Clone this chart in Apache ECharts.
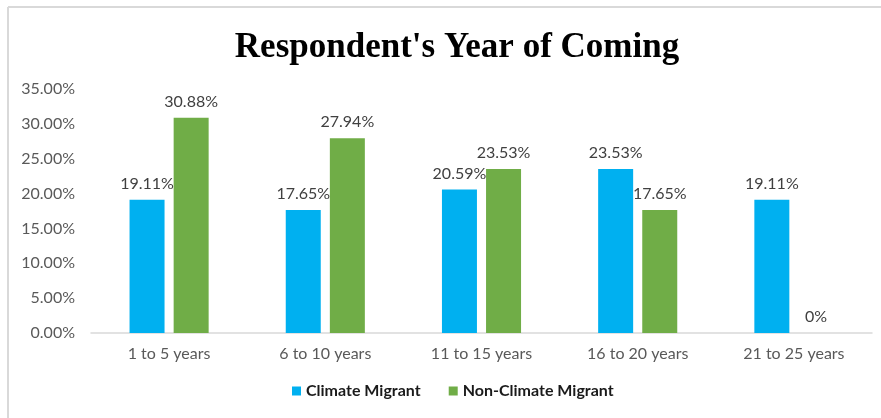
<!DOCTYPE html>
<html>
<head>
<meta charset="utf-8">
<title>Respondent's Year of Coming</title>
<script src="https://cdn.jsdelivr.net/npm/echarts@6/dist/echarts.min.js"></script>
<style>
	html, body { margin: 0; padding: 0; background: #ffffff; }
	#chart { width: 881px; height: 418px; }
</style>
</head>
<body>
<div id="chart"></div>
<script>
// categories on the x axis
var categories = ['1 to 5 years', '6 to 10 years', '11 to 15 years', '16 to 20 years', '21 to 25 years'];
// percentages
var climateData = [19.11, 17.65, 20.59, 23.53, 19.11];
var nonClimateData = [30.88, 27.94, 23.53, 17.65, 0];
// y axis tick labels
var yTicks = ['0.00%', '5.00%', '10.00%', '15.00%', '20.00%', '25.00%', '30.00%', '35.00%'];

window.onload = function () {
	var chart = echarts.init(document.getElementById('chart'));
	var labelFont = 'Lato, "Open Sans", sans-serif';

	var option = {
		animation: false,
		backgroundColor: '#ffffff',
		title: {
			text: "Respondent's Year of Coming",
			left: 452,
			top: 25,
			textAlign: 'center',
			textStyle: {
				fontFamily: '"Liberation Serif", "Times New Roman", serif',
				fontWeight: 'bold',
				fontSize: 35,
				color: '#000000'
			}
		},
		legend: {
			bottom: 14,
			left: 287,
			itemWidth: 9,
			itemHeight: 9,
			itemGap: 28,
			icon: 'rect',
			textStyle: {
				fontFamily: labelFont,
				fontWeight: 'bold',
				fontSize: 16,
				color: '#1a1a1a'
			},
			data: ['Climate Migrant', 'Non-Climate Migrant']
		},
		grid: {
			left: 91,
			right: 9,
			top: 89,
			bottom: 85
		},
		graphic: [
			{ type: 'line', shape: { x1: 8, y1: 7, x2: 881, y2: 7 }, style: { stroke: '#d9d9d9', lineWidth: 2 } },
			{ type: 'line', shape: { x1: 8, y1: 7, x2: 8, y2: 418 }, style: { stroke: '#d9d9d9', lineWidth: 2 } }
		],
		xAxis: {
			type: 'category',
			data: categories,
			axisTick: { show: false },
			axisLine: { lineStyle: { color: '#d9d9d9', width: 1.5 } },
			axisLabel: {
				margin: 13,
				fontFamily: labelFont,
				fontSize: 16,
				color: '#595959'
			}
		},
		yAxis: {
			type: 'value',
			min: 0,
			max: 35,
			interval: 5,
			splitLine: { show: false },
			axisLine: { show: false },
			axisTick: { show: false },
			axisLabel: {
				margin: 16,
				fontFamily: labelFont,
				fontSize: 16,
				color: '#595959',
				formatter: function (val) {
					return yTicks[Math.round(val / 5)];
				}
			}
		},
		series: [
			{
				name: 'Climate Migrant',
				type: 'bar',
				barWidth: 35,
				barGap: '26%',
				itemStyle: { color: '#00B0F0' },
				label: {
					show: true,
					position: 'top',
					distance: 8,
					fontFamily: labelFont,
					fontSize: 16,
					color: '#404040',
					formatter: function (p) { return p.value === 0 ? '0%' : p.value.toFixed(2) + '%'; }
				},
				data: climateData
			},
			{
				name: 'Non-Climate Migrant',
				type: 'bar',
				barWidth: 35,
				itemStyle: { color: '#70AD47' },
				label: {
					show: true,
					position: 'top',
					distance: 8,
					fontFamily: labelFont,
					fontSize: 16,
					color: '#404040',
					formatter: function (p) { return p.value === 0 ? '0%' : p.value.toFixed(2) + '%'; }
				},
				data: nonClimateData
			}
		]
	};
	chart.setOption(option);
};
</script>
</body>
</html>
